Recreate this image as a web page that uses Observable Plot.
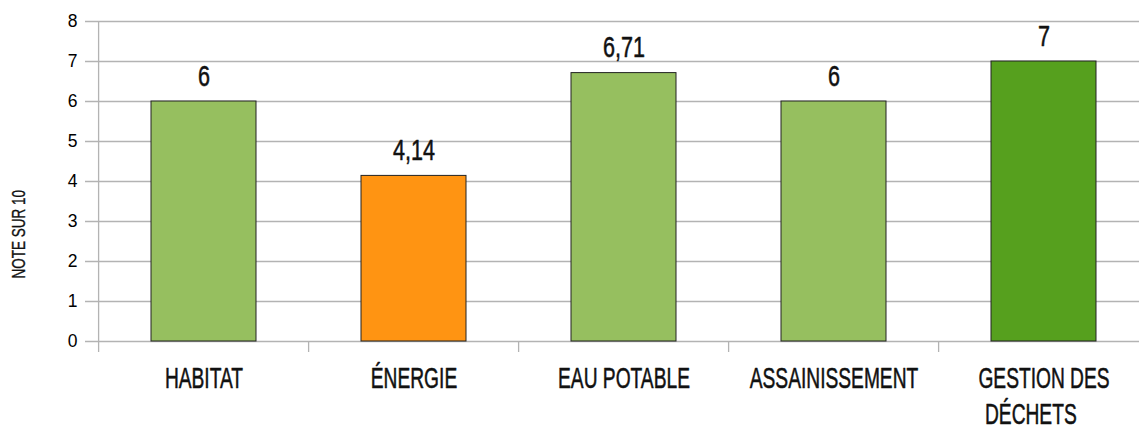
<!DOCTYPE html>
<html>
<head>
<meta charset="utf-8">
<script src="https://cdn.jsdelivr.net/npm/d3@7"></script>
<script src="https://cdn.jsdelivr.net/npm/@observablehq/plot@0.6"></script>
<style>
  html, body { margin: 0; padding: 0; background: #fff; overflow: hidden; }
</style>
</head>
<body>
<div id="chart"></div>
<script>
const categories = ["HABITAT", "ÉNERGIE", "EAU POTABLE", "ASSAINISSEMENT", "GESTION DES"];
const secondLines = ["", "", "", "", "DÉCHETS"];
const values = [6, 4.14, 6.71, 6, 7];
const valueLabels = ["6", "4,14", "6,71", "6", "7"];
const barColors = ["#96bf5f", "#ff9412", "#96bf5f", "#96bf5f", "#56a01e"];
const yTicks = [0, 1, 2, 3, 4, 5, 6, 7, 8];
const yLabel = "NOTE SUR 10";

const data = categories.map((c, i) => ({cat: c, value: values[i], label: valueLabels[i], color: barColors[i], line2: secondLines[i]}));

const W = 1139, H = 428;
const xStart = 96, xEnd = 1150;
const step = (xEnd - xStart) / categories.length;
const condFont = "'Liberation Sans', Arial, sans-serif";
const txt = {fontFamily: condFont, fill: "#111", stroke: "#111", strokeWidth: 0.55};

const chart = Plot.plot({
  width: W,
  height: H,
  marginLeft: 85,
  marginRight: 0,
  marginTop: 21,
  marginBottom: 87,
  style: {fontFamily: "'Liberation Sans', Arial, sans-serif", fontSize: "17.5px", background: "#fff", color: "#000"},
  x: {domain: categories, range: [xStart, xEnd], paddingInner: 0.5, paddingOuter: 0.25, axis: null},
  y: {domain: [0, 8], ticks: yTicks, tickSize: 0, tickPadding: 8, label: null, tickFormat: d => String(d)},
  marks: [
    Plot.ruleY(yTicks, {stroke: "#b3b3b3", strokeWidth: 1.3}),
    Plot.ruleX([categories[0]], {x: d => d, y1: 8, y2: 0, dx: -step / 2, stroke: "#b3b3b3", strokeWidth: 1.3}),
    Plot.ruleX(categories, {x: d => d, y1: 0, y2: -0.275, dx: -step / 2, stroke: "#b3b3b3", strokeWidth: 1.3}),
    Plot.barY(data, {x: "cat", y: "value", fill: "color", stroke: "#222", strokeWidth: 1}),
    Plot.text(data, {x: "cat", y: "value", text: "label", lineAnchor: "bottom", dy: -16, fontSize: 30, ...txt}),
    Plot.text(data, {x: "cat", text: "cat", frameAnchor: "bottom", lineAnchor: "top", dy: 25, fontSize: 30, ...txt}),
    Plot.text(data.filter(d => d.line2), {x: "cat", text: "line2", frameAnchor: "bottom", lineAnchor: "top", textAnchor: "start", dx: -59, dy: 61, fontSize: 30, ...txt}),
    Plot.text([yLabel], {text: d => d, frameAnchor: "left", rotate: -90, dx: -66, dy: 97, fontSize: 18, ...txt, strokeWidth: 0.35})
  ]
});

document.getElementById("chart").appendChild(chart);

// Horizontally condense texts around their anchor point (Bebas-like look)
const scaleFor = new Map();
categories.forEach(c => scaleFor.set(c, 0.64));
secondLines.filter(s => s).forEach(c => scaleFor.set(c, 0.64));
valueLabels.forEach(v => scaleFor.set(v, 0.72));
scaleFor.set(yLabel, 0.75);

chart.querySelectorAll("text").forEach(t => {
  const s = t.textContent;
  if (!scaleFor.has(s)) return;
  if (t.closest('g[aria-label^="y-axis"]')) return;
  const sx = scaleFor.get(s);
  const bb = t.getBBox();
  const anchor = getComputedStyle(t).textAnchor;
  const ax = anchor === "start" ? bb.x : anchor === "end" ? bb.x + bb.width : bb.x + bb.width / 2;
  const tr = t.getAttribute("transform") || "";
  t.setAttribute("transform", `${tr} translate(${ax},0) scale(${sx},1) translate(${-ax},0)`);
});
</script>
</body>
</html>
